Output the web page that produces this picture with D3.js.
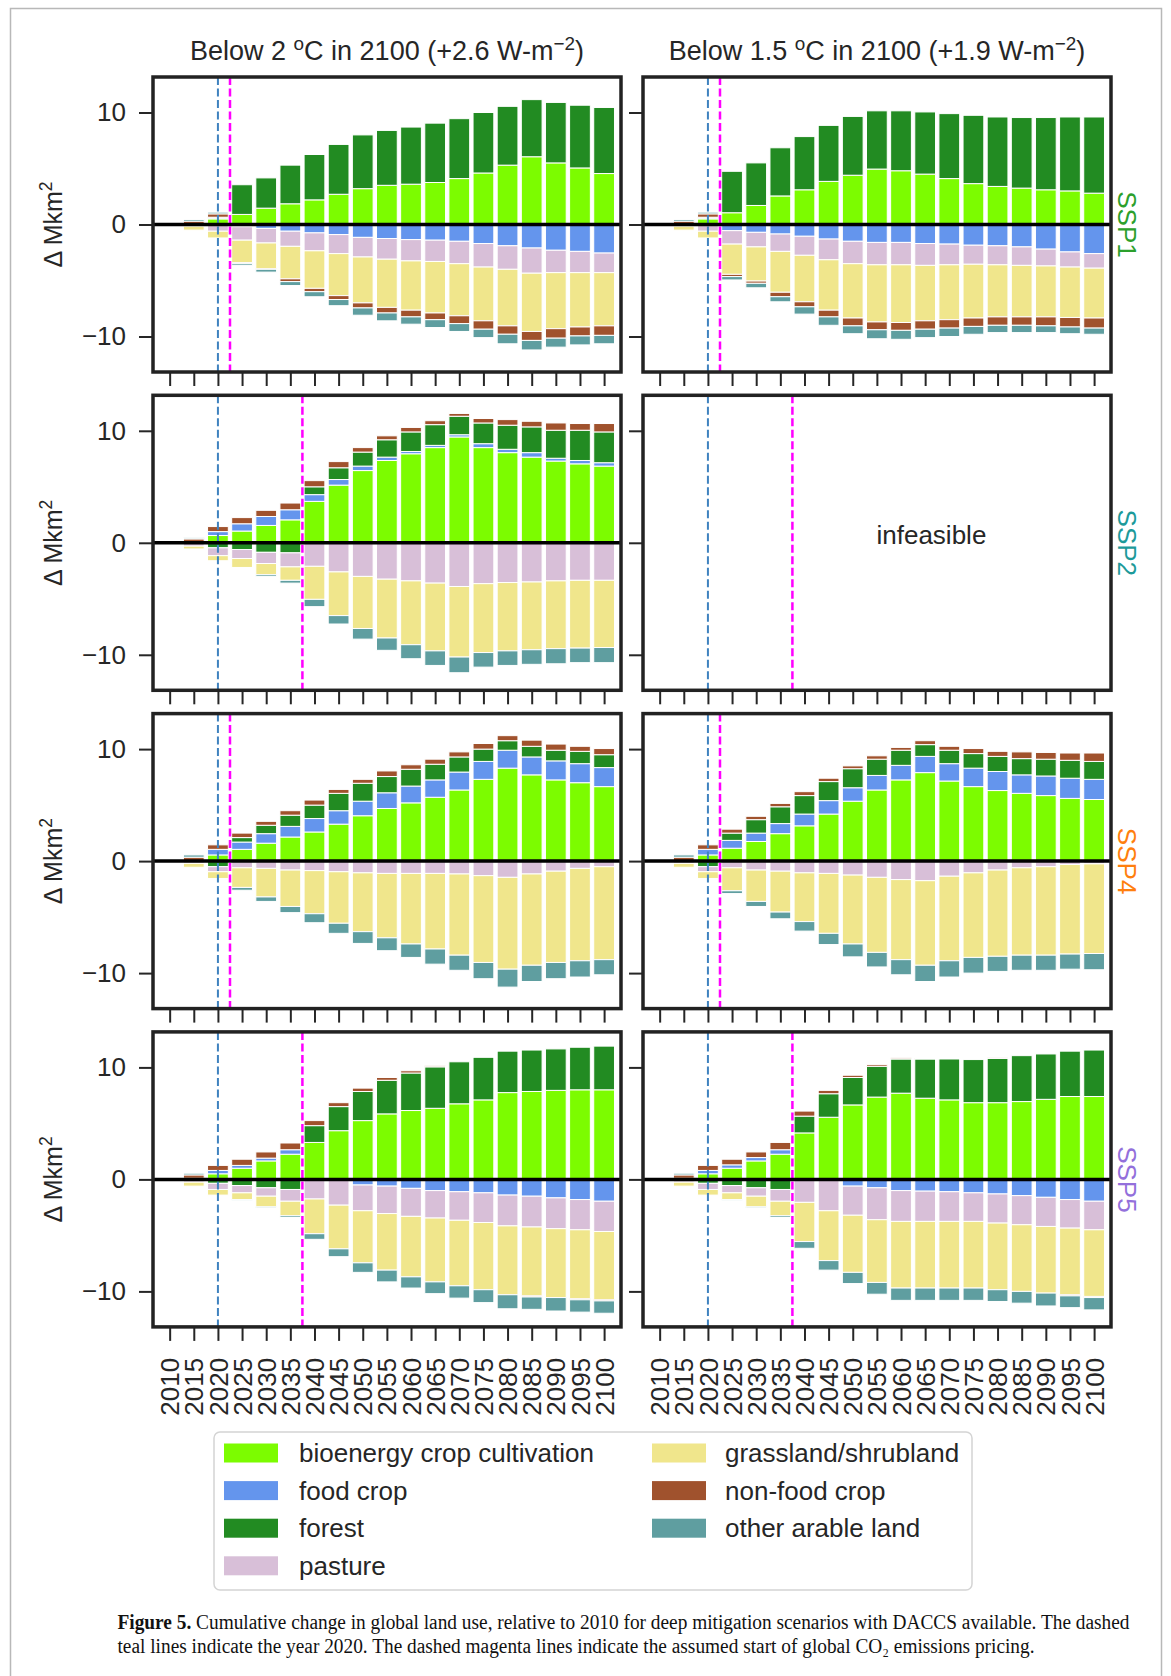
<!DOCTYPE html>
<html>
<head>
<meta charset="utf-8">
<script src="https://cdn.jsdelivr.net/npm/d3@7"></script>
<style>
  body { margin: 0; background: #fff; }
  text { font-family: "Liberation Sans", Arial, sans-serif; fill: #262626; }
  .caption { font-family: "Liberation Serif", "DejaVu Serif", serif; fill: #111; }
</style>
</head>
<body>
<svg id="fig" width="1171" height="1676"></svg>
<script>
// ---------- data ----------
var years = [2010, 2015, 2020, 2025, 2030, 2035, 2040, 2045, 2050, 2055,
             2060, 2065, 2070, 2075, 2080, 2085, 2090, 2095, 2100];

var keys   = ['bio', 'food', 'forest', 'pasture', 'grass', 'nonfood', 'other'];
var labels = ['bioenergy crop cultivation', 'food crop', 'forest', 'pasture',
              'grassland/shrubland', 'non-food crop', 'other arable land'];
var colors = ['#7cfc00', '#6495ed', '#228b22', '#d8bfd8', '#f0e68c', '#a0522d', '#5f9ea0'];

var columnTitles = ['2', '1.5'];
var forcing      = ['+2.6', '+1.9'];
var ssps      = ['SSP1', 'SSP2', 'SSP4', 'SSP5'];
var sspColors = ['#2ca02c', '#1d9a9a', '#ff7f0e', '#9370db'];

// change in Mkm2 relative to 2010; one row per land-use type (order of keys)
var ssp1_below2 = [
  [0, 0, 0.5, 0.9, 1.46, 1.85, 2.2, 2.7, 3.2, 3.5, 3.6, 3.75, 4.1, 4.6, 5.3, 6.05, 5.5, 5.05, 4.55],
  [0, 0, 0.1, -0.2, -0.35, -0.6, -0.75, -0.9, -1.15, -1.25, -1.35, -1.4, -1.5, -1.7, -1.9, -2.1, -2.3, -2.4, -2.55],
  [0, 0.05, 0.05, 2.65, 2.7, 3.45, 4.05, 4.45, 4.8, 4.9, 5.1, 5.3, 5.35, 5.4, 5.25, 5.1, 5.4, 5.6, 5.9],
  [0, -0.15, -0.6, -1.2, -1.3, -1.35, -1.6, -1.7, -1.75, -1.85, -1.9, -1.9, -2.0, -2.1, -2.1, -2.25, -2.0, -1.9, -1.75],
  [0, -0.35, -0.6, -2.0, -2.3, -2.9, -3.35, -3.75, -4.1, -4.3, -4.4, -4.6, -4.65, -4.8, -5.05, -5.2, -5.0, -4.85, -4.75],
  [0, 0.25, 0.3, -0.1, -0.05, -0.25, -0.3, -0.35, -0.45, -0.5, -0.6, -0.6, -0.7, -0.75, -0.75, -0.8, -0.85, -0.8, -0.85],
  [0, 0.15, 0.15, -0.15, -0.25, -0.35, -0.45, -0.55, -0.65, -0.7, -0.65, -0.7, -0.7, -0.75, -0.85, -0.85, -0.8, -0.8, -0.75]
];
var ssp1_below15 = [
  [0, 0, 0.5, 1.05, 1.7, 2.55, 3.1, 3.85, 4.4, 4.95, 4.8, 4.5, 4.1, 3.65, 3.4, 3.25, 3.1, 3.0, 2.8],
  [0, 0, 0.1, -0.55, -0.7, -0.85, -1.05, -1.3, -1.5, -1.6, -1.6, -1.7, -1.75, -1.85, -1.9, -2.0, -2.2, -2.45, -2.6],
  [0, 0.05, 0.05, 3.7, 3.8, 4.3, 4.75, 5.0, 5.25, 5.2, 5.35, 5.55, 5.8, 6.1, 6.2, 6.3, 6.45, 6.6, 6.8],
  [0, -0.15, -0.6, -1.2, -1.3, -1.55, -1.7, -1.85, -2.0, -2.0, -2.0, -1.95, -1.85, -1.7, -1.7, -1.65, -1.5, -1.35, -1.3],
  [0, -0.35, -0.6, -2.7, -3.05, -3.65, -4.15, -4.5, -4.85, -5.1, -5.15, -4.95, -4.9, -4.8, -4.65, -4.6, -4.55, -4.5, -4.45],
  [0, 0.25, 0.3, -0.2, -0.2, -0.4, -0.45, -0.6, -0.7, -0.7, -0.7, -0.75, -0.75, -0.75, -0.75, -0.75, -0.8, -0.85, -0.9],
  [0, 0.15, 0.15, -0.3, -0.4, -0.45, -0.65, -0.75, -0.7, -0.8, -0.8, -0.75, -0.75, -0.7, -0.65, -0.65, -0.6, -0.6, -0.55]
];
var ssp2_below2 = [
  [0, 0.05, 0.65, 1.05, 1.55, 2.05, 3.7, 5.15, 6.45, 7.35, 7.95, 8.5, 9.45, 8.5, 8.05, 7.65, 7.3, 7.05, 6.85],
  [0, 0.05, 0.35, 0.65, 0.8, 0.9, 0.6, 0.5, 0.4, 0.3, 0.2, 0.2, 0.2, 0.35, 0.3, 0.4, 0.25, 0.3, 0.3],
  [0, 0, -0.45, -0.6, -0.85, -0.9, 0.7, 1.05, 1.25, 1.55, 1.75, 1.85, 1.65, 1.85, 2.15, 2.3, 2.5, 2.7, 2.75],
  [0, -0.3, -0.7, -0.8, -1.0, -1.25, -2.1, -2.6, -3.0, -3.25, -3.4, -3.6, -3.9, -3.65, -3.55, -3.5, -3.4, -3.35, -3.35],
  [0, -0.25, -0.45, -0.8, -1.0, -1.2, -2.95, -3.9, -4.65, -5.25, -5.7, -6.05, -6.3, -6.15, -6.1, -6.05, -6.05, -6.05, -6.0],
  [0, 0.25, 0.45, 0.55, 0.55, 0.6, 0.55, 0.55, 0.4, 0.35, 0.4, 0.35, 0.25, 0.4, 0.5, 0.5, 0.65, 0.6, 0.75],
  [0, 0.1, 0, 0, -0.15, -0.25, -0.65, -0.75, -0.95, -1.1, -1.25, -1.3, -1.4, -1.3, -1.3, -1.3, -1.35, -1.3, -1.35]
];
var ssp4_below2 = [
  [0, 0, 0.55, 1.05, 1.6, 2.15, 2.6, 3.3, 4.05, 4.7, 5.2, 5.7, 6.35, 7.3, 8.3, 7.7, 7.25, 7.0, 6.65],
  [0, 0.05, 0.5, 0.65, 0.85, 0.95, 1.2, 1.2, 1.3, 1.4, 1.5, 1.55, 1.6, 1.6, 1.6, 1.6, 1.7, 1.7, 1.7],
  [0, 0, -0.5, 0.4, 0.75, 1.0, 1.2, 1.55, 1.6, 1.45, 1.5, 1.4, 1.35, 1.1, 0.85, 0.95, 0.95, 1.1, 1.15],
  [0, -0.2, -0.45, -0.6, -0.65, -0.8, -0.85, -0.95, -1.05, -1.1, -1.1, -1.1, -1.15, -1.3, -1.45, -1.15, -0.9, -0.65, -0.5],
  [0, -0.35, -0.6, -1.75, -2.55, -3.25, -3.85, -4.6, -5.25, -5.75, -6.3, -6.75, -7.25, -7.75, -8.2, -8.15, -8.15, -8.25, -8.3],
  [0, 0.3, 0.4, 0.4, 0.35, 0.4, 0.45, 0.35, 0.35, 0.5, 0.4, 0.45, 0.45, 0.5, 0.45, 0.55, 0.55, 0.45, 0.55],
  [0, 0.2, 0, -0.25, -0.4, -0.55, -0.8, -0.9, -1.05, -1.15, -1.2, -1.35, -1.35, -1.45, -1.6, -1.45, -1.45, -1.45, -1.35]
];
var ssp4_below15 = [
  [0, 0, 0.55, 1.15, 1.75, 2.45, 3.15, 4.2, 5.35, 6.35, 7.25, 7.9, 7.15, 6.65, 6.3, 6.05, 5.85, 5.6, 5.5],
  [0, 0.05, 0.5, 0.7, 0.75, 0.9, 1.05, 1.2, 1.2, 1.3, 1.3, 1.45, 1.55, 1.65, 1.7, 1.65, 1.75, 1.8, 1.8],
  [0, 0, -0.5, 0.65, 1.2, 1.5, 1.65, 1.7, 1.7, 1.45, 1.35, 1.05, 1.2, 1.3, 1.35, 1.45, 1.5, 1.6, 1.6],
  [0, -0.2, -0.45, -0.6, -0.8, -0.9, -1.05, -1.1, -1.25, -1.45, -1.65, -1.75, -1.35, -1.05, -0.8, -0.6, -0.5, -0.3, -0.25],
  [0, -0.35, -0.6, -2.05, -2.8, -3.65, -4.35, -5.35, -6.15, -6.7, -7.15, -7.55, -7.55, -7.55, -7.7, -7.8, -7.9, -8.0, -8.0],
  [0, 0.3, 0.4, 0.35, 0.3, 0.3, 0.35, 0.3, 0.25, 0.3, 0.25, 0.35, 0.35, 0.45, 0.45, 0.6, 0.6, 0.65, 0.75],
  [0, 0.2, 0, -0.25, -0.45, -0.6, -0.85, -1.0, -1.15, -1.3, -1.35, -1.45, -1.45, -1.4, -1.35, -1.35, -1.35, -1.35, -1.45]
];
var ssp5_below2 = [
  [0, 0.05, 0.5, 1.0, 1.65, 2.25, 3.3, 4.35, 5.25, 5.85, 6.15, 6.35, 6.75, 7.1, 7.75, 7.85, 7.95, 8.0, 8.0],
  [0, 0.05, 0.3, 0.25, 0.25, 0.4, 0, 0, -0.5, -0.6, -0.8, -1.0, -1.1, -1.2, -1.4, -1.5, -1.65, -1.8, -1.95],
  [0, 0, -0.35, -0.55, -0.75, -0.9, 1.5, 2.15, 2.6, 3.0, 3.35, 3.7, 3.75, 3.8, 3.7, 3.7, 3.7, 3.8, 3.9],
  [0, -0.25, -0.55, -0.65, -0.75, -1.05, -1.75, -2.3, -2.3, -2.45, -2.5, -2.45, -2.55, -2.65, -2.75, -2.75, -2.75, -2.7, -2.7],
  [0, -0.35, -0.5, -0.6, -0.95, -1.3, -3.1, -3.9, -4.65, -5.05, -5.4, -5.7, -5.85, -6.0, -6.15, -6.15, -6.15, -6.15, -6.1],
  [0, 0.3, 0.45, 0.55, 0.55, 0.6, 0.45, 0.35, 0.3, 0.25, 0.2, 0.1, 0, 0, 0, -0.1, 0, -0.1, -0.1],
  [0, 0.15, 0, -0.05, -0.1, -0.15, -0.5, -0.7, -0.85, -1.05, -1.0, -1.05, -1.1, -1.15, -1.25, -1.1, -1.2, -1.1, -1.1]
];
var ssp5_below15 = [
  [0, 0.05, 0.5, 1.0, 1.65, 2.25, 4.15, 5.55, 6.65, 7.35, 7.7, 7.25, 7.1, 6.85, 6.85, 6.95, 7.15, 7.4, 7.4],
  [0, 0.05, 0.3, 0.3, 0.3, 0.4, 0, -0.1, -0.6, -0.75, -1.0, -1.05, -1.1, -1.2, -1.3, -1.45, -1.6, -1.8, -1.95],
  [0, 0, -0.35, -0.55, -0.75, -0.9, 1.5, 2.1, 2.45, 2.75, 3.05, 3.5, 3.65, 3.85, 3.95, 4.1, 4.05, 4.05, 4.15],
  [0, -0.25, -0.55, -0.65, -0.75, -1.05, -2.05, -2.7, -2.6, -2.85, -2.75, -2.7, -2.65, -2.55, -2.6, -2.6, -2.6, -2.55, -2.55],
  [0, -0.35, -0.5, -0.6, -0.95, -1.3, -3.5, -4.45, -5.1, -5.6, -5.95, -5.95, -5.95, -5.95, -5.95, -5.95, -5.95, -5.95, -5.95],
  [0, 0.3, 0.45, 0.5, 0.5, 0.65, 0.45, 0.3, 0.2, 0.15, 0.1, 0.05, 0, 0, 0.05, 0, 0, -0.1, -0.1],
  [0, 0.15, 0, -0.05, -0.1, -0.15, -0.6, -0.85, -1.0, -1.05, -1.1, -1.1, -1.1, -1.1, -1.05, -1.05, -1.15, -1.05, -1.1]
];

// year of the teal line, and the start of CO2 pricing for each SSP row
var year2020 = 2020;
var pricingStart = [2022.5, 2037.5, 2022.5, 2037.5];
var yTicks = [-10, 0, 10];

// grid of panels: [row][col]; null = infeasible
var panelData = [
  [ssp1_below2, ssp1_below15],
  [ssp2_below2, null],
  [ssp4_below2, ssp4_below15],
  [ssp5_below2, ssp5_below15]
];

// ---------- layout ----------
var colX = [153, 643],
    rowY = [77, 395.3, 713.6, 1031.9],
    W = 468, H = 295;

var svg = d3.select('#fig');
var color = d3.scaleOrdinal().domain(keys).range(colors);

var x = d3.scaleLinear().domain([2006.55, 2103.5]).range([0, W]);
var y = d3.scaleLinear().domain([-13.17, 13.17]).range([H, 0]);
var bw = x(2014.3) - x(2010);

// light frame round the whole figure
svg.append('rect')
  .attr('x', 10.5).attr('y', 8.5)
  .attr('width', 1151).attr('height', 1720)
  .attr('fill', 'none').attr('stroke', '#b8b8b8').attr('stroke-width', 1.5);

// helper: text with superscript parts
function richText(sel, parts) {
  parts.forEach(function(p) {
    var t = sel.append('tspan').text(p[0]);
    if (p[1]) t.attr('baseline-shift', 'super').attr('font-size', '70%');
  });
}

// column titles
columnTitles.forEach(function(deg, c) {
  var t = svg.append('text')
    .attr('x', colX[c] + W / 2).attr('y', 60)
    .attr('text-anchor', 'middle')
    .attr('font-size', 27);
  richText(t, [['Below ' + deg + ' '], ['o', true], ['C in 2100 (' + forcing[c] + ' W-m'], ['\u22122', true], [')']]);
});

panelData.forEach(function(rowPanels, r) {
  // y label
  var yl = svg.append('text')
    .attr('transform', 'translate(53,' + (rowY[r] + H / 2) + ') rotate(-90)')
    .attr('text-anchor', 'middle').attr('dy', '0.35em')
    .attr('font-size', 25);
  richText(yl, [['\u0394 Mkm'], ['2', true]]);

  // SSP label on the right
  svg.append('text')
    .attr('transform', 'translate(1127,' + (rowY[r] + H / 2) + ') rotate(90)')
    .attr('text-anchor', 'middle').attr('dy', '0.35em')
    .attr('font-size', 26)
    .style('fill', sspColors[r])
    .text(ssps[r]);

  rowPanels.forEach(function(rows, c) {
    var g = svg.append('g').attr('transform', 'translate(' + colX[c] + ',' + rowY[r] + ')');

    if (rows) {
      var table = years.map(function(yr, i) {
        var o = {year: yr};
        keys.forEach(function(k, j) { o[k] = rows[j][i]; });
        return o;
      });
      var series = d3.stack().keys(keys).offset(d3.stackOffsetDiverging)(table);

      g.selectAll('g.layer')
        .data(series)
        .join('g')
          .attr('class', 'layer')
          .attr('fill', function(d) { return color(d.key); })
        .selectAll('rect')
        .data(function(d) { return d; })
        .join('rect')
          .attr('x', function(d) { return x(d.data.year) - bw / 2; })
          .attr('width', bw)
          .attr('y', function(d) { return y(Math.max(d[0], d[1])); })
          .attr('height', function(d) { return Math.abs(y(d[0]) - y(d[1])); })
          .attr('stroke', '#fff')
          .attr('stroke-width', 1);
    } else {
      g.append('text')
        .attr('x', x(2066.3)).attr('y', y(0.7))
        .attr('text-anchor', 'middle').attr('dy', '0.35em')
        .attr('font-size', 26)
        .text('infeasible');
    }

    // dashed markers
    g.append('line')
      .attr('x1', x(year2020)).attr('x2', x(year2020))
      .attr('y1', 0).attr('y2', H)
      .attr('stroke', '#3f82bf').attr('stroke-width', 2)
      .attr('stroke-dasharray', '8,3.5');
    g.append('line')
      .attr('x1', x(pricingStart[r])).attr('x2', x(pricingStart[r]))
      .attr('y1', 0).attr('y2', H)
      .attr('stroke', '#ff00ff').attr('stroke-width', 2.5)
      .attr('stroke-dasharray', '8,3.5');

    // zero line
    if (rows) {
      g.append('line')
        .attr('x1', 0).attr('x2', W)
        .attr('y1', y(0)).attr('y2', y(0))
        .attr('stroke', '#000').attr('stroke-width', 3.5);
    }

    // axes
    var ya = g.append('g').call(
      d3.axisLeft(y).tickValues(yTicks).tickSize(14).tickPadding(13)
        .tickFormat(c === 0 ? d3.format('d') : function() { return ''; }));
    var xa = g.append('g').attr('transform', 'translate(0,' + H + ')').call(
      d3.axisBottom(x).tickValues(years).tickSize(14)
        .tickFormat(r === 3 ? d3.format('d') : function() { return ''; }));
    [ya, xa].forEach(function(a) {
      a.attr('font-size', 26).attr('font-family', null).style('color', '#262626');
      a.select('.domain').remove();
      a.selectAll('.tick line').attr('stroke-width', 2);
    });
    xa.selectAll('.tick text')
      .attr('transform', 'rotate(-90)')
      .attr('x', -31).attr('y', 0).attr('dy', '0.35em')
      .style('text-anchor', 'end');

    // frame
    g.append('rect')
      .attr('width', W).attr('height', H)
      .attr('fill', 'none').attr('stroke', '#222').attr('stroke-width', 3.5);
  });
});

// ---------- legend ----------
var legend = svg.append('g');
legend.append('rect')
  .attr('x', 214).attr('y', 1432).attr('width', 758).attr('height', 158)
  .attr('rx', 6).attr('fill', '#fff')
  .attr('stroke', '#d4d4d4').attr('stroke-width', 1.5);

var legendCols = [[0, 1, 2, 3], [4, 5, 6]];
var swatchX = [224, 652], labelX = [299, 725];
legendCols.forEach(function(idx, c) {
  idx.forEach(function(k, i) {
    var cy = 1453 + i * 37.6;
    legend.append('rect')
      .attr('x', swatchX[c]).attr('y', cy - 9.5)
      .attr('width', 54).attr('height', 19)
      .attr('fill', colors[k]);
    legend.append('text')
      .attr('x', labelX[c]).attr('y', cy).attr('dy', '0.35em')
      .attr('font-size', 26)
      .text(labels[k]);
  });
});

// ---------- caption ----------
var cap1 = svg.append('text').attr('class', 'caption')
  .attr('x', 117.5).attr('y', 1629).attr('font-size', 20);
cap1.append('tspan').attr('font-weight', 'bold').text('Figure 5.');
cap1.append('tspan').text(' Cumulative change in global land use, relative to 2010 for deep mitigation scenarios with DACCS available. The dashed');

var cap2 = svg.append('text').attr('class', 'caption')
  .attr('x', 117.5).attr('y', 1653).attr('font-size', 20)
  .text('teal lines indicate the year 2020. The dashed magenta lines indicate the assumed start of global CO\u2082 emissions pricing.');

// squeeze caption to the narrow face of the original
var n1 = cap1.node().getComputedTextLength(),
    n2 = cap2.node().getComputedTextLength(),
    squeeze = 1012 / n1;
cap1.attr('textLength', 1012).attr('lengthAdjust', 'spacingAndGlyphs');
cap2.attr('textLength', n2 * squeeze).attr('lengthAdjust', 'spacingAndGlyphs');
</script>
</body>
</html>
